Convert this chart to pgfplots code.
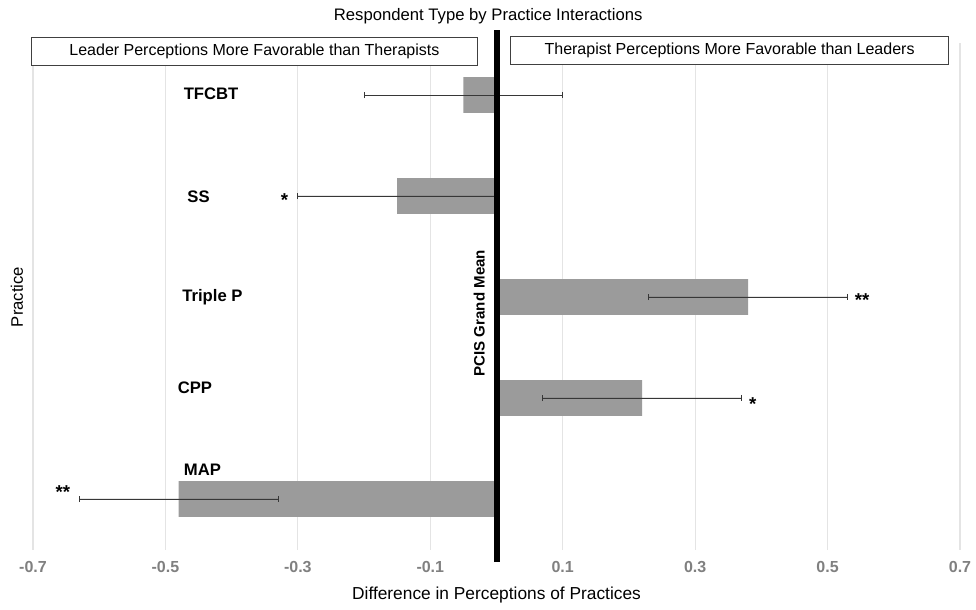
\documentclass[border=0pt]{standalone}
\usepackage{fontspec}
\setmainfont{Liberation Sans}
\usepackage{pgfplots}
\pgfplotsset{compat=1.18}
\definecolor{bargray}{RGB}{155,155,155}
\definecolor{gridgray}{RGB}{228,228,228}
\definecolor{tickgray}{RGB}{128,128,128}
\definecolor{errgray}{RGB}{55,55,55}
\begin{document}
\begin{tikzpicture}
\useasboundingbox (-24.75pt,-45pt) rectangle (707.25pt,412.5pt);
\begin{axis}[
  at={(0,0)}, anchor=south west,
  scale only axis, width=695.25pt, height=380.25pt,
  xmin=-0.7, xmax=0.7, ymin=0.495, ymax=5.515,
  xtick={-0.7,-0.5,-0.3,-0.1,0.1,0.3,0.5,0.7},
  xticklabels={-0.7,-0.5,-0.3,-0.1,0.1,0.3,0.5,0.7},
  ytick=\empty,
  xmajorgrids, grid style={gridgray, line width=0.8pt},
  axis line style={draw=none},
  major tick length=0pt,
  xticklabel style={font=\bfseries\fontsize{12}{14}\selectfont, text=tickgray, yshift=-5pt},
  clip=false,
  xbar, bar width=0.356,
]
\addplot[fill=bargray, draw=none,
  error bars/.cd, x dir=both, x explicit,
  error bar style={errgray, line width=0.7pt},
  error mark options={errgray, rotate=90, mark size=2.4pt, line width=0.7pt}]
 table[x=x, y=y, x error=e] {
 x y e
 -0.05 5 0.15
 -0.15 4 0.15
 0.38 3 0.15
 0.22 2 0.15
 -0.48 1 0.15
 };
\draw[black, line width=4.5pt] (axis cs:0,0.376) -- (axis cs:0,5.644);
% boxes
\draw[fill=white, draw=black!75, line width=0.6pt] (axis cs:-0.7025,5.29) rectangle (axis cs:-0.0287,5.575)
  node[midway, font=\fontsize{12}{14}\selectfont] {Leader Perceptions More Favorable than Therapists};
\draw[fill=white, draw=black!75, line width=0.6pt] (axis cs:0.021,5.305) rectangle (axis cs:0.683,5.585)
  node[midway, font=\fontsize{12}{14}\selectfont] {Therapist Perceptions More Favorable than Leaders};
% category labels
\begin{scope}[every node/.style={font=\bfseries\fontsize{12.5}{14}\selectfont}]
\node at (axis cs:-0.431,5.01) {TFCBT};
\node at (axis cs:-0.450,3.99) {SS};
\node at (axis cs:-0.429,3.0) {Triple P};
\node at (axis cs:-0.4555,2.1) {CPP};
\node at (axis cs:-0.444,1.29) {MAP};
\end{scope}
\begin{scope}[every node/.style={font=\bfseries\fontsize{14}{16}\selectfont}]
\node at (axis cs:-0.320,3.955) {*};
\node at (axis cs:0.552,2.965) {**};
\node at (axis cs:0.387,1.935) {*};
\node at (axis cs:-0.655,1.07) {**};
\end{scope}
\node[rotate=90, font=\bfseries\fontsize{11.3}{13}\selectfont] at (axis cs:-0.026,2.84) {PCIS Grand Mean};
% titles
\node[font=\fontsize{12.5}{14}\selectfont] at ([yshift=20pt]rel axis cs:0.491,1) {Respondent Type by Practice Interactions};
\node[font=\fontsize{13}{15}\selectfont] at ([yshift=-33.75pt]rel axis cs:0.5,0) {Difference in Perceptions of Practices};
\node[font=\fontsize{12.5}{14}\selectfont, rotate=90] at ([xshift=-12pt]rel axis cs:0,0.499) {Practice};
\end{axis}
\end{tikzpicture}
\end{document}
